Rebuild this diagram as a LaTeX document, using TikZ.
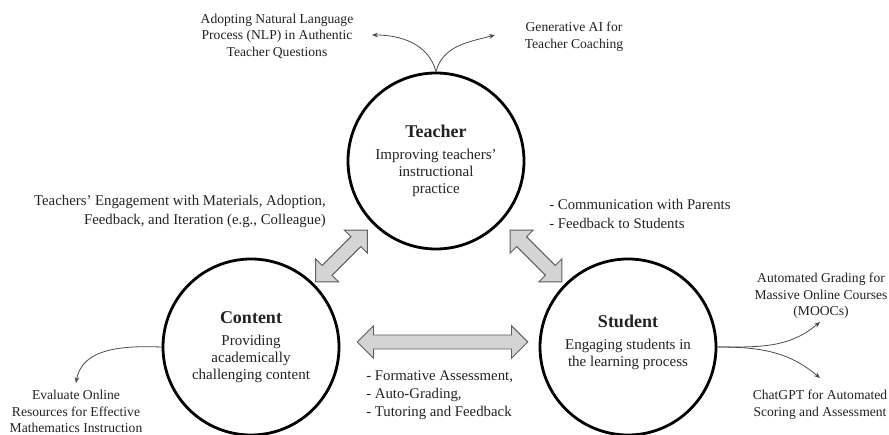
\documentclass[tikz,border=0pt]{standalone}
\usepackage{fontspec}
\setmainfont{Liberation Serif}
\usetikzlibrary{arrows.meta,calc,shapes.arrows}
\definecolor{Ink}{HTML}{222222}
\definecolor{Rail}{HTML}{D4D4D4}
\definecolor{RailEdge}{HTML}{5E5E5E}
\definecolor{Twig}{HTML}{4A4A4A}
\tikzset{
  hub/.style={
    circle, draw=black, line width=2.1pt, minimum size=132pt,
    inner sep=0pt, align=center, text=Ink,
    font=\fontsize{11.25}{12.75}\selectfont
  },
  exchange/.style={
    double arrow, draw=RailEdge, fill=Rail, line width=0.7pt,
    double arrow head extend=7pt, inner xsep=0pt, inner ysep=4.9pt,
    minimum height=55pt
  },
  note/.style={align=center, text=Ink, inner sep=0pt,
    font=\fontsize{10.2}{12.4}\selectfont},
  duty/.style={align=left, text=Ink, inner sep=0pt,
    font=\fontsize{11.1}{13.6}\selectfont},
  twig/.style={-{Stealth[length=4.5pt,width=3.6pt]}, draw=Twig, line width=0.6pt}
}
\newcommand{\hubname}[1]{{\fontsize{13.5}{15}\selectfont\bfseries #1}\\[3.75pt]}

\begin{document}
\begin{tikzpicture}[x=0.75pt,y=0.75pt]
  \useasboundingbox (0,0) rectangle (889,435);
  % the three hubs
  \node[hub] (teacher) at (436,274) {\hubname{Teacher}Improving teachers'\\instructional\\practice};
  \node[hub] (content) at (251,88) {\hubname{Content}Providing\\academically\\challenging content};
  \node[hub] (student) at (628,88) {\hubname{Student}Engaging students in\\the learning process\\[-3.75pt]\mbox{}};

  % two-way exchanges between hubs
  \node[exchange, rotate=45] (tc) at ($(teacher)!0.5!(content)+(-2,-2)$) {};
  \node[exchange, rotate=-45] (ts) at ($(teacher)!0.5!(student)+(4,-2)$) {};
  \node[exchange, minimum height=128pt] (cs) at ($(content)!0.5!(student)+(3,5)$) {};

  % what travels along each exchange
  \node[duty, anchor=east, align=right] (uptake) at (326,223.5)
    {Teachers' Engagement with Materials, Adoption,\\Feedback, and Iteration (e.g., Colleague)};
  \node[duty, anchor=west] (home) at (549,221)
    {- Communication with Parents\\- Feedback to Students};
  \node[duty, anchor=west] (assess) at (366,39.5)
    {- Formative Assessment,\\- Auto-Grading,\\- Tutoring and Feedback};

  % applications branching off
  \node[note] (nlp) at (277,399) {Adopting Natural Language\\Process (NLP) in Authentic\\Teacher Questions};
  \node[note] (genai) at (574,398.5) {Generative AI for\\Teacher Coaching};
  \node[note] (evaluate) at (76,23.5) {Evaluate Online\\Resources for Effective\\Mathematics Instruction};
  \node[note] (mooc) at (821,139) {Automated Grading for\\Massive Online Courses\\(MOOCs)};
  \node[note] (chatgpt) at (820,30.5) {ChatGPT for Automated\\Scoring and Assessment};

  \coordinate (nlptip) at (372,400);
  \coordinate (genaitip) at (495,400);
  \coordinate (evaluatetip) at (76,52);
  \coordinate (mooctip) at (820,113);
  \coordinate (chatgpttip) at (820,57);

  \draw[twig] (teacher.north) to[out=105,in=0] (nlptip);
  \draw[twig] (teacher.north) to[out=75,in=195] (genaitip);
  \draw[twig] (content.west) to[out=178,in=80] (evaluatetip);
  \draw[twig] (student.east) to[out=0,in=220] (mooctip);
  \draw[twig] (student.east) to[out=0,in=140] (chatgpttip);
\end{tikzpicture}
\end{document}
